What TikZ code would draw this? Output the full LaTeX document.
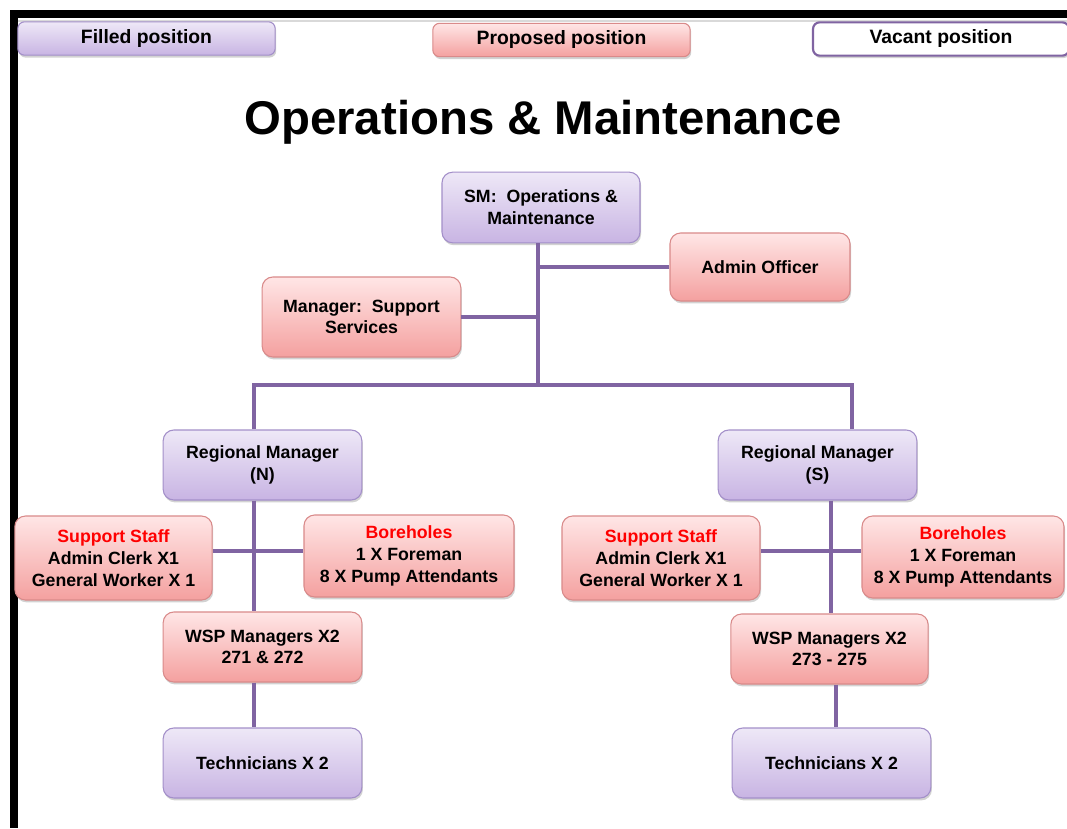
\documentclass[tikz,border=0pt]{standalone}
\usepackage{fontspec}
\setmainfont{Liberation Sans}
\usetikzlibrary{positioning, shadows}

\definecolor{filltop}{HTML}{EEE8F7}
\definecolor{fillbot}{HTML}{C8B4E3}
\definecolor{fillline}{HTML}{A38FC9}
\definecolor{proptop}{HTML}{FFE6E6}
\definecolor{propbot}{HTML}{F4A09F}
\definecolor{propline}{HTML}{D98A8A}
\definecolor{linkcol}{HTML}{8064A2}
\definecolor{headred}{HTML}{FF0000}

\begin{document}
\begin{tikzpicture}[
        x=0.75pt, y=-0.75pt,
        box/.style = {rectangle, rounded corners=8pt, line width=0.8pt,
                    align=center, inner sep=2pt,
                    font=\bfseries\fontsize{13.3}{16.3}\selectfont,
                    minimum width=149pt, minimum height=52.5pt,
                    drop shadow={shadow xshift=0.8pt, shadow yshift=-1.8pt, opacity=0.35}},
        filled/.style = {box, top color=filltop, bottom color=fillbot, draw=fillline},
        proposed/.style = {box, top color=proptop, bottom color=propbot, draw=propline},
        vacant/.style = {box, fill=white, draw=linkcol, line width=1.6pt},
        legend/.style = {font=\bfseries\fontsize{14.5}{16}\selectfont, rounded corners=5pt,
                    minimum width=193pt, minimum height=25pt},
        link/.style = {draw=linkcol, line width=3pt}
                    ]
        \useasboundingbox (0,0) rectangle (1067,828);
        \fill[white] (0,0) rectangle (1067,828);
        % frame
        \fill[black] (10,10) rectangle (1067,18);
        \fill[black] (10,10) rectangle (18,828);
        \draw[black!15, line width=1pt] (18,21) -- (1067,21);
        % legend
        \node (lfill) [filled, legend] at (146.5,38.5) {Filled position};
        \node (lprop) [proposed, legend] at (561.5,40) {Proposed position};
        \node (lvac) [vacant, legend, minimum width=192pt] at (941,39) {Vacant position};
        \node (title) at (543,122) {\fontsize{35.5}{40}\selectfont\bfseries Operations \& Maintenance};
        %
        \node (sm) [filled, minimum width=148.5pt, minimum height=53pt] at (541,207.5) {SM:\ \ Operations \&\\Maintenance};
        \node (admin) [proposed, minimum width=135pt, minimum height=51pt] at (760,267) {Admin Officer};
        \node (mgr) [proposed, minimum height=60pt] at (361.5,317) {Manager:\ \ Support\\Services};
        \node (rmn) [filled] at (262.5,465) {Regional Manager\\(N)};
        \node (rms) [filled] at (817.5,465) {Regional Manager\\(S)};
        \node (ssn) [proposed, minimum width=148pt, minimum height=63pt] at (113.5,558) {\textcolor{headred}{Support Staff}\\Admin Clerk X1\\General Worker X 1};
        \node (bhn) [proposed, minimum width=157.5pt, minimum height=61.5pt] at (409,556) {\textcolor{headred}{Boreholes}\\1 X Foreman\\8 X Pump Attendants};
        \node (wspn) [proposed] at (262.5,647) {WSP Managers X2\\271 \& 272};
        \node (techn) [filled] at (262.5,763) {Technicians X 2};
        \node (sss) [proposed, minimum width=148.5pt, minimum height=63pt] at (661,558) {\textcolor{headred}{Support Staff}\\Admin Clerk X1\\General Worker X 1};
        \node (bhs) [proposed, minimum width=151.5pt, minimum height=61.5pt] at (963,557) {\textcolor{headred}{Boreholes}\\1 X Foreman\\8 X Pump Attendants};
        \node (wsps) [proposed, minimum width=148pt] at (829.5,649) {WSP Managers X2\\273 - 275};
        \node (techs) [filled] at (831.5,763) {Technicians X 2};
        %
        \coordinate (trunk) at (538,385);
        \coordinate (busn) at (254,385);
        \coordinate (buss) at (852,385);
        \coordinate (hubn) at (254,551);
        \coordinate (hubs) at (831,551);
        \coordinate (stems) at (836,700);
        %
        \draw[link] (sm.south -| trunk) -- (trunk);
        \draw[link] (admin.west) -- (admin.west -| trunk);
        \draw[link] (mgr.east) -- (mgr.east -| trunk);
        \draw[link] (rmn.north -| busn) -- (busn) -- (buss) -- (rms.north -| buss);
        \draw[link] (rmn.south -| hubn) -- (wspn.north -| hubn);
        \draw[link] (ssn.east |- hubn) -- (bhn.west |- hubn);
        \draw[link] (wspn.south -| hubn) -- (techn.north -| hubn);
        \draw[link] (rms.south -| hubs) -- (wsps.north -| hubs);
        \draw[link] (sss.east |- hubs) -- (bhs.west |- hubs);
        \draw[link] (wsps.south -| stems) -- (techs.north -| stems);
    \end{tikzpicture}
\end{document}
